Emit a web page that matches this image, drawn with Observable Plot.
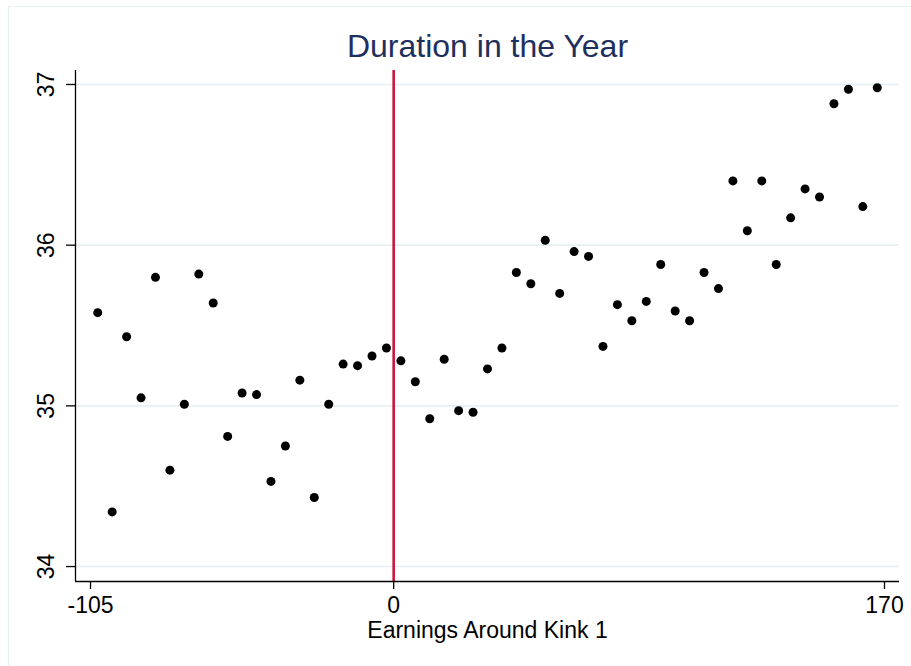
<!DOCTYPE html>
<html>
<head>
<meta charset="utf-8">
<script src="https://cdn.jsdelivr.net/npm/d3@7"></script>
<script src="https://cdn.jsdelivr.net/npm/@observablehq/plot@0.6"></script>
<style>
  html, body { margin: 0; padding: 0; background: #ffffff; }
  #wrap { position: relative; width: 911px; height: 666px; overflow: hidden; }
  #border { position: absolute; left: 8px; top: 6px; width: 1000px; height: 1000px;
            border-left: 1px solid #e6eef1; border-top: 1px solid #e6eef1; pointer-events: none; }
  svg { font-family: "Liberation Sans", Arial, Helvetica, sans-serif; }
</style>
</head>
<body>
<div id="wrap"><div id="border"></div></div>
<script>
const titleText = "Duration in the Year";
const xLabel = "Earnings Around Kink 1";

const earnings = [-102.5, -97.5, -92.5, -87.5, -82.5, -77.5, -72.5, -67.5, -62.5, -57.5,
  -52.5, -47.5, -42.5, -37.5, -32.5, -27.5, -22.5, -17.5, -12.5, -7.5,
  -2.5, 2.5, 7.5, 12.5, 17.5, 22.5, 27.5, 32.5, 37.5, 42.5,
  47.5, 52.5, 57.5, 62.5, 67.5, 72.5, 77.5, 82.5, 87.5, 92.5,
  97.5, 102.5, 107.5, 112.5, 117.5, 122.5, 127.5, 132.5, 137.5, 142.5,
  147.5, 152.5, 157.5, 162.5, 167.5];
const duration = [35.58, 34.34, 35.43, 35.05, 35.80, 34.60, 35.01, 35.82, 35.64, 34.81,
  35.08, 35.07, 34.53, 34.75, 35.16, 34.43, 35.01, 35.26, 35.25, 35.31,
  35.36, 35.28, 35.15, 34.92, 35.29, 34.97, 34.96, 35.23, 35.36, 35.83,
  35.76, 36.03, 35.70, 35.96, 35.93, 35.37, 35.63, 35.53, 35.65, 35.88,
  35.59, 35.53, 35.83, 35.73, 36.40, 36.09, 36.40, 35.88, 36.17, 36.35,
  36.30, 36.88, 36.97, 36.24, 36.98];
const xTicks = [-105, 0, 170];
const yTicks = [34, 35, 36, 37];
const kink = [0];

const data = earnings.map((x, i) => ({x, y: duration[i]}));
const xDomain = [-110.2, 175.2];
const yDomain = [33.907, 37.087];
const navy = "#1e2f5e";

const chart = Plot.plot({
  width: 911,
  height: 666,
  marginLeft: 75,
  marginRight: 12,
  marginTop: 70,
  marginBottom: 85,
  style: {fontFamily: "'Liberation Sans', Arial, Helvetica, sans-serif", background: "transparent", overflow: "visible"},
  x: {domain: xDomain},
  y: {domain: yDomain},
  marks: [
    Plot.ruleY(yTicks, {stroke: "#e8eff2", strokeWidth: 1.6}),
    Plot.ruleX(kink, {stroke: "#cc1540", strokeWidth: 2.6}),
    Plot.dot(data, {x: "x", y: "y", r: 4.5, fill: "#000000", stroke: "none"}),
    Plot.ruleX([xDomain[0]], {stroke: "#000", strokeWidth: 1.3}),
    Plot.ruleY([yDomain[0]], {stroke: "#000", strokeWidth: 1.3}),
    Plot.axisX({ticks: xTicks, tickSize: 8, tickPadding: 7, fontSize: 23, label: null,
      tickFormat: d => String(d).replace("−", "-"), stroke: "#000", strokeWidth: 1.3, fill: "#000"}),
    Plot.axisY({ticks: yTicks, tickSize: 9, tickFormat: () => "", label: null, stroke: "#000", strokeWidth: 1.3}),
    Plot.text(yTicks, {x: xDomain[0], y: d => d, text: d => String(d), rotate: -90, dx: -22,
      textAnchor: "middle", lineAnchor: "bottom", fontSize: 23, fill: "#000"}),
    Plot.text([xLabel], {frameAnchor: "bottom", dy: 56, lineAnchor: "bottom", fontSize: 23, fill: "#000", text: d => d}),
    Plot.text([titleText], {frameAnchor: "top", dy: -14, lineAnchor: "bottom", fontSize: 32, fill: navy, text: d => d})
  ]
});
document.getElementById("wrap").appendChild(chart);
</script>
</body>
</html>
